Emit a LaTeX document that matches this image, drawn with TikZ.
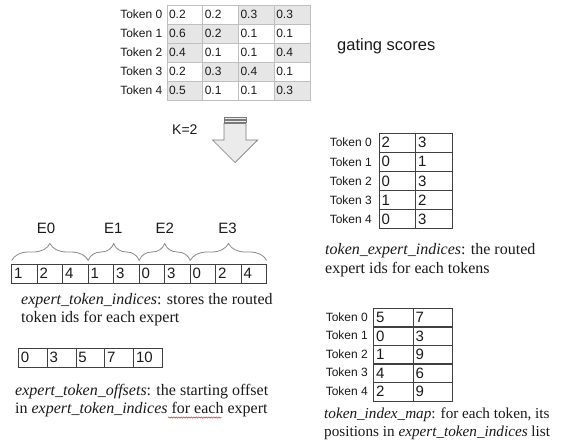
\documentclass[tikz,border=0pt]{standalone}
\usepackage{fontspec}
\setmainfont{Liberation Serif}
\setsansfont{Liberation Sans}
\usetikzlibrary{calc,decorations.pathreplacing,decorations.pathmorphing}
\definecolor{gline}{HTML}{BFBFBF}
\definecolor{gfill}{HTML}{E6E6E6}
\definecolor{bline}{HTML}{404040}
\definecolor{brc}{HTML}{8A8A8A}
\definecolor{arrfill}{HTML}{EBEBEB}
\definecolor{arrline}{HTML}{7A7A7A}
\definecolor{txt}{HTML}{1A1A1A}
\begin{document}
\begin{tikzpicture}[x=1pt,y=-1pt,
  tlabel/.style={font=\sffamily\fontsize{12}{14}\selectfont, inner sep=0pt, text=txt},
  gcell/.style={draw=gline, line width=0.7pt, minimum height=19pt, text width=31.75pt,
    inner xsep=2pt, inner ysep=0pt, align=left, anchor=north west, outer sep=0pt,
    font=\sffamily\fontsize{12}{14}\selectfont, text=txt},
  acell/.style={draw=bline, line width=0.8pt, minimum height=19pt, text width=#1,
    inner xsep=2.5pt, inner ysep=0pt, align=left, anchor=north west, outer sep=0pt,
    font=\sffamily\fontsize{15}{17}\selectfont, text=txt},
  elabel/.style={font=\sffamily\fontsize{15}{17}\selectfont, inner sep=0pt, text=txt},
  serif/.style={font=\fontsize{16}{19}\selectfont, inner sep=0pt, anchor=base west, text=txt},
  serifs/.style={font=\fontsize{15.2}{18}\selectfont, inner sep=0pt, anchor=base west, text=txt},
  brc/.style={draw=brc, line width=0.8pt, decorate, decoration={brace, amplitude=17pt}},
]
\useasboundingbox (0,0) rectangle (561,447);
\fill[white] (0,0) rectangle (561,447);

% ---- gating scores table ----
\foreach \row [count=\r from 0] in {{0.2/0,0.2/0,0.3/1,0.3/1},{0.6/1,0.2/1,0.1/0,0.1/0},{0.4/1,0.1/0,0.1/0,0.4/1},{0.2/0,0.3/1,0.4/1,0.1/0},{0.5/1,0.1/0,0.1/0,0.3/1}} {
  \node[tlabel, anchor=east] (gl\r) at (162.5, 14.5+19*\r) {Token \r};
  \foreach \v/\s [count=\c from 0] in \row {
    \ifnum\s=1 \def\fc{gfill}\else\def\fc{white}\fi
    \node[gcell, fill=\fc] (g\r\c) at (167+35.75*\c, 5+19*\r) {\v};
  }
}
\node[font=\sffamily\fontsize{16.5}{19}\selectfont, anchor=west, inner sep=0pt, text=txt] (gs) at (337, 46) {gating scores};

% ---- K=2 and block arrow ----
\node[font=\sffamily\fontsize{14}{16}\selectfont, anchor=base west, inner sep=0pt, text=txt] (k2) at (172, 134) {K=2};
\filldraw[draw=arrline, fill=arrfill, line width=0.7pt, line join=miter]
  (224,123.5) -- (246,123.5) -- (246,140) -- (257.5,140) -- (235,162.5) -- (212.5,140) -- (224,140) -- cycle;
\filldraw[draw=arrline, fill=arrfill, line width=0.7pt] (224,117) rectangle (246,119);
\filldraw[draw=arrline, fill=arrfill, line width=0.7pt] (224,120.3) rectangle (246,122.2);

% ---- expert_token_indices array ----
\foreach \v [count=\i from 0] in {1,2,4,1,3,0,3,0,2,4} {
  \node[acell=20.5pt] (a\i) at (11.7+25.5*\i, 264) {\v};
}
\draw[brc] ([yshift=3.5pt]a0.north west) -- ([yshift=3.5pt]a2.north east);
\draw[brc] ([yshift=3.5pt]a3.north west) -- ([yshift=3.5pt]a4.north east);
\draw[brc] ([yshift=3.5pt]a5.north west) -- ([yshift=3.5pt]a6.north east);
\draw[brc] ([yshift=3.5pt]a7.north west) -- ([yshift=3.5pt]a9.north east);
\node[elabel] (e0) at ($(a0.north west)!0.5!(a2.north east)+(-4,-36)$) {E0};
\node[elabel] (e1) at ($(a3.north west)!0.5!(a4.north east)+(-0.5,-36)$) {E1};
\node[elabel] (e2) at ($(a5.north west)!0.5!(a6.north east)+(0,-36)$) {E2};
\node[elabel] (e3) at ($(a7.north west)!0.5!(a9.north east)+(-1,-36)$) {E3};

\node[serif] (t1a) at (21,304) {\textit{expert\_token\_indices}: stores the routed};
\node[serif] (t1b) at (21,322) {token ids for each expert};

% ---- expert_token_offsets ----
\foreach \v [count=\i from 0] in {0,3,5,7,10} {
  \node[acell=23.8pt] (o\i) at (18.3+28.8*\i, 348) {\v};
}
\node[serif] (t2a) at (15,395) {\textit{expert\_token\_offsets}: the starting offset};
\node[serif] (t2b) at (15,413) {in \textit{expert\_token\_indices} for each expert};
\draw[red!80!black, line width=0.4pt, decorate, decoration={snake, amplitude=0.7pt, segment length=2.5pt}] (168,417.5) -- (222,417.5);

% ---- token_expert_indices ----
\foreach \a/\b [count=\r from 0] in {2/3,0/1,0/3,1/2,0/3} {
  \node[tlabel, anchor=east] (rl\r) at (372, 142.6+19.2*\r) {Token \r};
  \node[acell=31.5pt] (p\r0) at (379, 133+19.2*\r) {\a};
  \node[acell=31.5pt] (p\r1) at (415.5, 133+19.2*\r) {\b};
}
\node[serif] (t3a) at (325,254) {\textit{token\_expert\_indices}: the routed};
\node[serif] (t3b) at (325,273) {expert ids for each tokens};

% ---- token_index_map ----
\foreach \a/\b [count=\r from 0] in {5/7,0/3,1/9,4/6,2/9} {
  \node[tlabel, anchor=east] (ml\r) at (368, 317.2+18.5*\r) {Token \r};
  \node[acell=34.5pt] (m\r0) at (373.5, 308+18.5*\r) {\a};
  \node[acell=34.5pt] (m\r1) at (413, 308+18.5*\r) {\b};
}
\node[serifs] (t4a) at (324,418) {\textit{token\_index\_map}: for each token, its};
\node[serifs] (t4b) at (324,436) {positions in \textit{expert\_token\_indices} list};
\end{tikzpicture}
\end{document}
